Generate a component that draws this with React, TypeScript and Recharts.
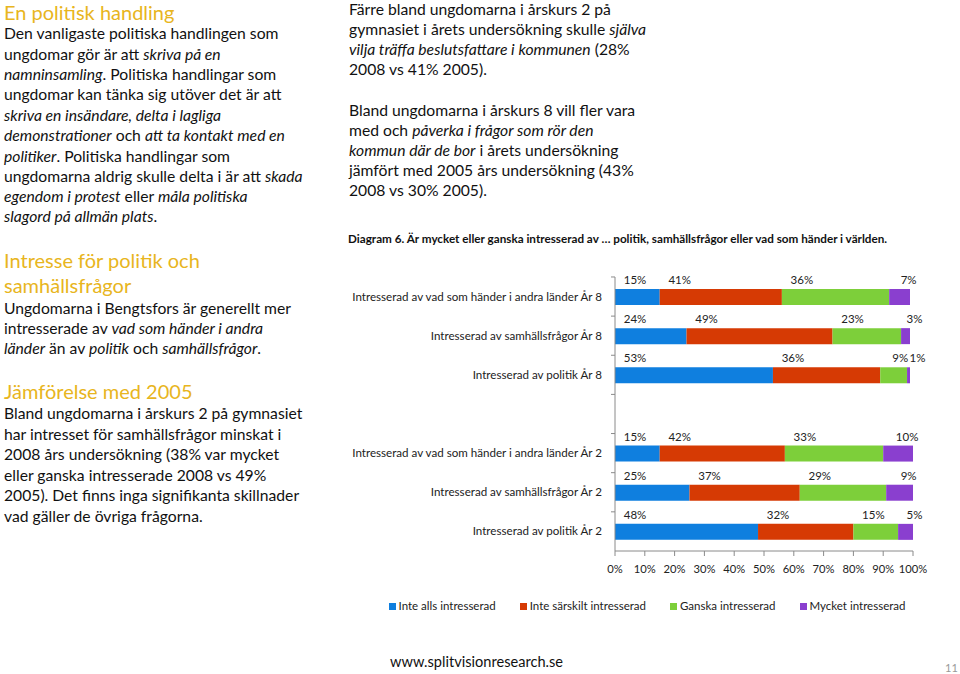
import React from "react";
import { BarChart, Bar, XAxis, YAxis, Legend, LabelList } from "recharts";

const categories = [
  "Intresserad av vad som händer i andra länder År 8",
  "Intresserad av samhällsfrågor År 8",
  "Intresserad av politik År 8",
  " ",
  "Intresserad av vad som händer i andra länder År 2",
  "Intresserad av samhällsfrågor År 2",
  "Intresserad av politik År 2",
];
const inteAlls = [15, 24, 53, null, 15, 25, 48];
const inteSarskilt = [41, 49, 36, null, 42, 37, 32];
const ganska = [36, 23, 9, null, 33, 29, 15];
const mycket = [7, 3, 1, null, 10, 9, 5];
const xTicks = [0, 10, 20, 30, 40, 50, 60, 70, 80, 90, 100];

const seriesNames = ["Inte alls intresserad", "Inte särskilt intresserad", "Ganska intresserad", "Mycket intresserad"];
const colors = ["#0F7FDF", "#D63A04", "#7DCF3A", "#8A3FCF"];

const data = categories.map((name, i) => ({
  name,
  a: inteAlls[i],
  b: inteSarskilt[i],
  c: ganska[i],
  d: mycket[i],
}));

const FONT = "Lato, 'Open Sans', sans-serif";
const GOLD = "#E8B520";

const leftLines: [number, string][] = [
  [33, "Den vanligaste politiska handlingen som"],
  [54, "ungdomar gör är att _skriva på en_"],
  [74, "_namninsamling_. Politiska handlingar som"],
  [94, "ungdomar kan tänka sig utöver det är att"],
  [115, "_skriva en insändare, delta i lagliga_"],
  [135, "_demonstrationer_ och _att ta kontakt med en_"],
  [156, "_politiker_. Politiska handlingar som"],
  [176, "ungdomarna aldrig skulle delta i är att _skada_"],
  [196, "_egendom i protest_ eller _måla politiska_"],
  [216, "_slagord på allmän plats_."],
  [308, "Ungdomarna i Bengtsfors är generellt mer"],
  [328, "intresserade av _vad som händer i andra_"],
  [348, "_länder_ än av _politik_ och _samhällsfrågor_."],
  [413, "Bland ungdomarna i årskurs 2 på gymnasiet"],
  [434, "har intresset för samhällsfrågor minskat i"],
  [454, "2008 års undersökning (38% var mycket"],
  [475, "eller ganska intresserade 2008 vs 49%"],
  [495, "2005). Det finns inga signifikanta skillnader"],
  [516, "vad gäller de övriga frågorna."],
];
const headings: [number, string][] = [
  [12, "En politisk handling"],
  [260, "Intresse för politik och"],
  [285, "samhällsfrågor"],
  [391, "Jämförelse med 2005"],
];
const rightLines: [number, string][] = [
  [9, "Färre bland ungdomarna i årskurs 2 på"],
  [29, "gymnasiet i årets undersökning skulle _själva_"],
  [49, "_vilja träffa beslutsfattare i kommunen_ (28%"],
  [69, "2008 vs 41% 2005)."],
  [110, "Bland ungdomarna i årskurs 8 vill fler vara"],
  [130, "med och _påverka i frågor som rör den_"],
  [150, "_kommun där de bor_ i årets undersökning"],
  [170, "jämfört med 2005 års undersökning (43%"],
  [190, "2008 vs 30% 2005)."],
];

const renderSegments = (s: string) =>
  s.split("_").map((part, i) => (
    <span key={i} style={{ fontStyle: i % 2 === 1 ? "italic" : "normal" }}>
      {part}
    </span>
  ));

const Line = ({ x, cy, text, size, color, lh, weight }: any) => (
  <div
    style={{
      position: "absolute",
      left: x,
      top: cy - lh / 2,
      lineHeight: lh + "px",
      height: lh,
      fontSize: size,
      fontWeight: weight || 400,
      color,
      whiteSpace: "nowrap",
      fontFamily: FONT,
    }}
  >
    {renderSegments(text)}
  </div>
);

const makeLabel = (last: boolean) => (props: any) => {
  const { x, y, width, value } = props;
  if (value == null) return null;
  const cx = last ? Number(x) + Number(width) / 2 + 9 : Number(x) + 20;
  return (
    <text x={cx} y={Number(y) - 5} textAnchor="middle" fontSize={11.5} fill="#222" fontFamily={FONT}>
      {value}%
    </text>
  );
};

const YTick = (props: any) => {
  const { x, y, payload } = props;
  return (
    <g>
      <line x1={x + 9} x2={x + 13} y1={y - 19.6} y2={y - 19.6} stroke="#8a8a8a" />
      <text x={x} y={y} dy={4} textAnchor="end" fontSize={11.6} fill="#222" fontFamily={FONT}>
        {payload.value}
      </text>
    </g>
  );
};

const LegendContent = () => (
  <div
    style={{
      display: "flex",
      justifyContent: "center",
      gap: 24,
      fontFamily: FONT,
      fontSize: 11.5,
      color: "#222",
      lineHeight: "16px",
      paddingLeft: 14,
    }}
  >
    {seriesNames.map((n, i) => (
      <div key={n} style={{ display: "flex", alignItems: "center" }}>
        <span style={{ display: "inline-block", width: 7, height: 7, background: colors[i], marginRight: 3 }} />
        <span>{n}</span>
      </div>
    ))}
  </div>
);

export default function App() {
  return (
    <div style={{ position: "absolute", left: 0, top: 0, width: 960, height: 674, background: "#fff", overflow: "hidden" }}>
      {headings.map(([cy, t]) => (
        <Line key={t} x={4} cy={cy} text={t} size={20} color={GOLD} lh={24} weight={400} />
      ))}
      {leftLines.map(([cy, t]) => (
        <Line key={t} x={4} cy={cy} text={t} size={15.7} color="#111" lh={20} />
      ))}
      {rightLines.map(([cy, t]) => (
        <Line key={t} x={349} cy={cy} text={t} size={15.7} color="#111" lh={20} />
      ))}
      <div
        style={{
          position: "absolute",
          left: 348,
          top: 230,
          lineHeight: "16px",
          fontSize: 11.7,
          fontWeight: "bold",
          fontFamily: FONT,
          color: "#111",
          whiteSpace: "nowrap",
        }}
      >
        Diagram 6. Är mycket eller ganska intresserad av … politik, samhällsfrågor eller vad som händer i världen.
      </div>
      <div style={{ position: "absolute", left: 340, top: 260 }}>
        <BarChart
          width={600}
          height={380}
          data={data}
          layout="vertical"
          margin={{ top: 17, right: 27, bottom: 59, left: 0 }}
          barCategoryGap={0}
        >
          <XAxis
            type="number"
            domain={[0, 100]}
            ticks={xTicks}
            tickFormatter={(v: number) => `${v}%`}
            axisLine={{ stroke: "#8a8a8a" }}
            tickLine={{ stroke: "#8a8a8a" }}
            tickSize={5}
            tickMargin={9}
            height={30}
            tick={{ fontSize: 11.2, fill: "#222", fontFamily: FONT }}
            interval={0}
          />
          <YAxis
            type="category"
            dataKey="name"
            width={275}
            axisLine={{ stroke: "#8a8a8a" }}
            tickLine={false}
            tickSize={4}
            tickMargin={9}
            tick={<YTick />}
            interval={0}
          />
          <Legend
            layout="horizontal"
            verticalAlign="middle"
            align="center"
            width={600}
            wrapperStyle={{ top: 338, left: 0, width: 600 }}
            content={<LegendContent />}
          />
          <Bar dataKey="a" name={seriesNames[0]} stackId="s" fill={colors[0]} barSize={16} isAnimationActive={false}>
            <LabelList dataKey="a" content={makeLabel(false)} />
          </Bar>
          <Bar dataKey="b" name={seriesNames[1]} stackId="s" fill={colors[1]} barSize={16} isAnimationActive={false}>
            <LabelList dataKey="b" content={makeLabel(false)} />
          </Bar>
          <Bar dataKey="c" name={seriesNames[2]} stackId="s" fill={colors[2]} barSize={16} isAnimationActive={false}>
            <LabelList dataKey="c" content={makeLabel(false)} />
          </Bar>
          <Bar dataKey="d" name={seriesNames[3]} stackId="s" fill={colors[3]} barSize={16} isAnimationActive={false}>
            <LabelList dataKey="d" content={makeLabel(true)} />
          </Bar>
        </BarChart>
      </div>
      <div
        style={{
          position: "absolute",
          left: 390,
          top: 652,
          lineHeight: "20px",
          fontSize: 14.6,
          fontFamily: FONT,
          color: "#111",
        }}
      >
        www.splitvisionresearch.se
      </div>
      <div
        style={{
          position: "absolute",
          left: 945,
          top: 660,
          lineHeight: "16px",
          fontSize: 11,
          fontFamily: FONT,
          color: "#999",
        }}
      >
        11
      </div>
    </div>
  );
}
